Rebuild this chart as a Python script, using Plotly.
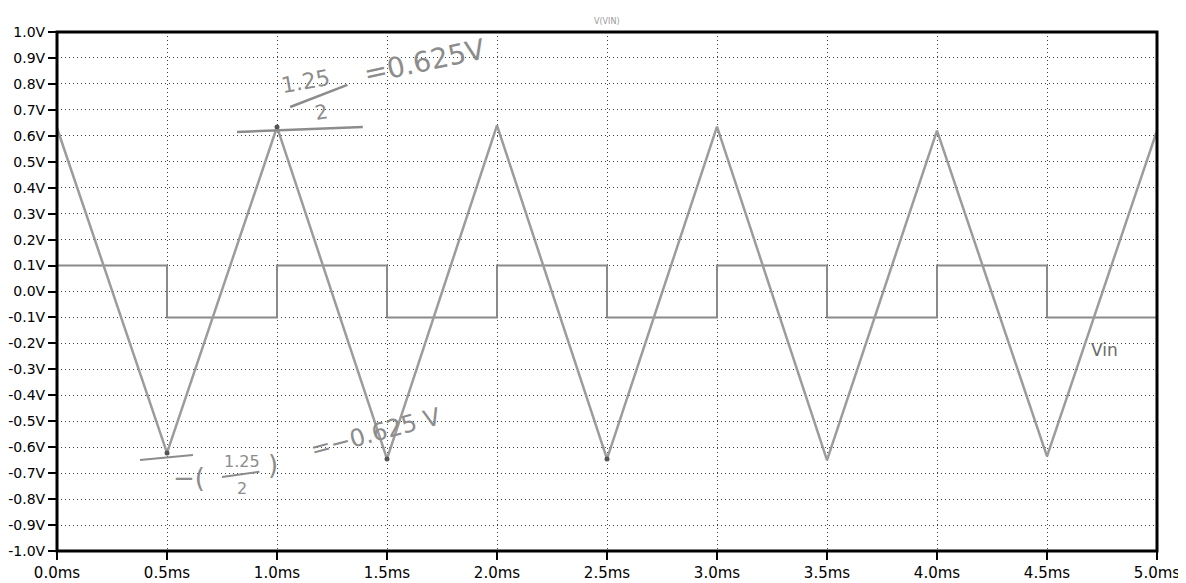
import plotly.graph_objects as go

# ---- data ----
time_ms = [0.0, 0.5, 1.0, 1.5, 2.0, 2.5, 3.0, 3.5, 4.0, 4.5, 5.0]
tri_v = [0.63, -0.622, 0.634, -0.645, 0.64, -0.645, 0.635, -0.65, 0.62, -0.635, 0.62]
sq_v = [0.1, -0.1, 0.1, -0.1, 0.1, -0.1, 0.1, -0.1, 0.1, -0.1, -0.1]
mark_t = [0.5, 1.0, 1.5, 2.5]
mark_v = [-0.622, 0.634, -0.645, -0.645]

x_ticks = [0.0, 0.5, 1.0, 1.5, 2.0, 2.5, 3.0, 3.5, 4.0, 4.5, 5.0]
x_labels = ["0.0ms", "0.5ms", "1.0ms", "1.5ms", "2.0ms", "2.5ms", "3.0ms", "3.5ms", "4.0ms", "4.5ms", "5.0ms"]
y_ticks = [round(-1.0 + 0.1 * i, 1) for i in range(21)]
y_labels = [f"{v:.1f}V".replace("-0.0", "0.0") for v in y_ticks]

pencil = "#8c8c8c"

fig = go.Figure()
fig.add_trace(go.Scatter(x=time_ms, y=sq_v, mode="lines", line_shape="hv",
                         line=dict(color="#8a8a8a", width=2), hoverinfo="skip"))
fig.add_trace(go.Scatter(x=time_ms, y=tri_v, mode="lines",
                         line=dict(color="#9c9c9c", width=2.5), hoverinfo="skip"))
fig.add_trace(go.Scatter(x=mark_t, y=mark_v, mode="markers",
                         marker=dict(color="#555555", size=5), hoverinfo="skip"))

axis_common = dict(showline=False, zeroline=False, showgrid=True, automargin=False,
                   gridcolor="#404040", gridwidth=1, griddash="1px,3px",
                   ticks="outside", tickwidth=2, tickcolor="black")

fig.update_xaxes(range=[0, 5], tickvals=x_ticks, ticktext=x_labels, ticklen=8,
                 tickfont=dict(family="DejaVu Sans", size=15, color="black"), **axis_common)
fig.update_yaxes(range=[-1, 1], tickvals=y_ticks, ticktext=y_labels, ticklen=8,
                 tickfont=dict(family="DejaVu Sans", size=14, color="black"), **axis_common)

shapes = [
    dict(type="rect", xref="paper", yref="paper", x0=0, x1=1, y0=0, y1=1,
         line=dict(color="black", width=3), layer="above"),
    dict(type="line", xref="paper", yref="paper", x0=1.0218, x1=1.0218, y0=-0.05, y1=1.05,
         line=dict(color="#888888", width=1, dash="1px,2px")),
    # hand-drawn marks
    dict(type="line", x0=0.818, y0=0.615, x1=1.39, y1=0.634, line=dict(color=pencil, width=2.5)),
    dict(type="line", x0=1.06, y0=0.711, x1=1.32, y1=0.796, line=dict(color=pencil, width=2.5)),
    dict(type="line", x0=0.377, y0=-0.649, x1=0.618, y1=-0.630, line=dict(color=pencil, width=2)),
    dict(type="line", x0=0.75, y0=-0.715, x1=0.92, y1=-0.695, line=dict(color=pencil, width=2)),
]

hand = dict(family="DejaVu Sans", color=pencil)
annotations = [
    dict(text="V(VIN)", xref="paper", yref="paper", x=0.5, y=1.0, yanchor="bottom", yshift=4,
         showarrow=False, font=dict(family="DejaVu Sans", size=8, color="#999999")),
    dict(text="Vin", x=4.76, y=-0.225, showarrow=False,
         font=dict(family="DejaVu Sans", size=17, color="#6a6a6a")),
    dict(text="1.25", x=1.13, y=0.81, showarrow=False, textangle=-10, font=dict(size=22, **hand)),
    dict(text="2", x=1.2, y=0.69, showarrow=False, textangle=-10, font=dict(size=20, **hand)),
    dict(text="=0.625V", x=1.67, y=0.885, showarrow=False, textangle=-12, font=dict(size=28, **hand)),
    dict(text="−(", x=0.6, y=-0.72, showarrow=False, font=dict(size=26, **hand)),
    dict(text="1.25", x=0.84, y=-0.655, showarrow=False, font=dict(size=16, **hand)),
    dict(text="2", x=0.84, y=-0.76, showarrow=False, font=dict(size=16, **hand)),
    dict(text=")", x=0.98, y=-0.67, showarrow=False, font=dict(size=26, **hand)),
    dict(text="=−0.625 V", x=1.45, y=-0.545, showarrow=False, textangle=-15, font=dict(size=24, **hand)),
]

# page body adds an 8px margin, so the figure is 8px smaller and margins shifted
fig.update_layout(
    width=1178, height=575,
    margin=dict(l=49, r=29, t=24, b=32, autoexpand=False),
    paper_bgcolor="white", plot_bgcolor="white",
    showlegend=False, shapes=shapes, annotations=annotations,
)

fig.write_html("out.html")
